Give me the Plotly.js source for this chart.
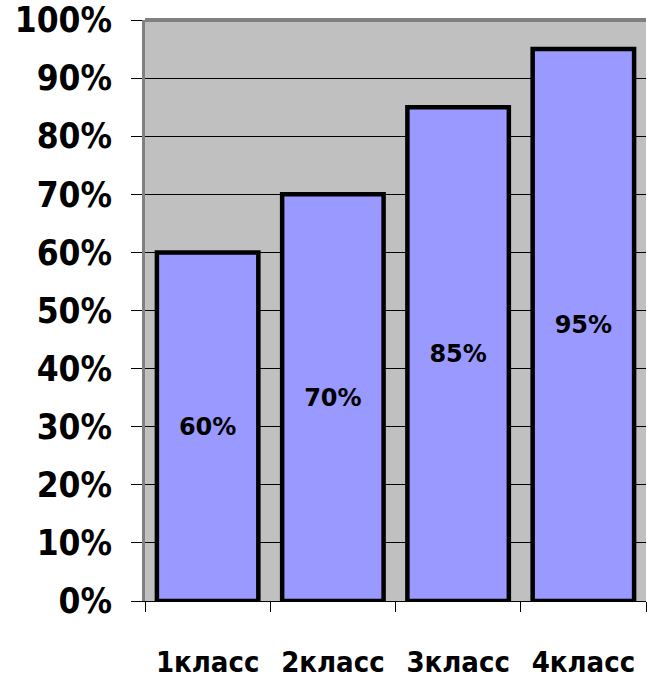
<!DOCTYPE html>
<html>
<head>
<meta charset="utf-8">
<script src="https://cdn.plot.ly/plotly-3.0.1.min.js"></script>
<style>html,body{margin:0;padding:0;background:#fff;}#chart{width:647px;height:679px;}</style>
</head>
<body>
<div id="chart"></div>
<script>
const categories = ['1класс', '2класс', '3класс', '4класс'];
const values = [0.60, 0.70, 0.85, 0.95];
const yTickVals = [0, 0.1, 0.2, 0.3, 0.4, 0.5, 0.6, 0.7, 0.8, 0.9, 1.0];
const yTickText = ['0%', '10%', '20%', '30%', '40%', '50%', '60%', '70%', '80%', '90%', '100%'];

const trace = {
  type: 'bar',
  x: categories,
  y: values,
  marker: { color: '#9999ff', line: { color: '#000000', width: 4.5 } },
  texttemplate: '%{y:.0%}',
  textposition: 'inside',
  insidetextanchor: 'middle',
  textangle: 0,
  textfont: { family: 'DejaVu Sans', size: 24, color: '#000000', weight: 'bold' },
  hoverinfo: 'none'
};

const layout = {
  width: 647, height: 679,
  margin: { l: 145, r: 1, t: 20, b: 78 },
  paper_bgcolor: '#ffffff',
  plot_bgcolor: '#c0c0c0',
  bargap: 0.19,
  showlegend: false,
  xaxis: {
    type: 'category',
    tickson: 'boundaries',
    ticks: 'outside', ticklen: 10, tickcolor: '#000000', tickwidth: 1,
    ticklabelstandoff: 35,
    showline: true, linecolor: '#000000', linewidth: 1,
    showgrid: false,
    tickfont: { family: 'DejaVu Sans Condensed', size: 29, color: '#000000', weight: 'bold' },
    fixedrange: true
  },
  yaxis: {
    range: [0, 1],
    tickvals: yTickVals, ticktext: yTickText,
    ticks: 'outside', ticklen: 11, tickcolor: '#000000', tickwidth: 1,
    ticklabelstandoff: 12,
    showgrid: true, gridcolor: '#000000', gridwidth: 1,
    zeroline: false,
    showline: true, linecolor: '#808080', linewidth: 3,
    tickfont: { family: 'DejaVu Sans Condensed', size: 35, color: '#000000', weight: 'bold' },
    fixedrange: true
  },
  shapes: [
    { type: 'line', xref: 'paper', yref: 'paper', x0: 0, x1: 1, y0: 1, y1: 1,
      line: { color: '#808080', width: 4 } }
  ]
};

Plotly.newPlot('chart', [trace], layout, { staticPlot: true, displayModeBar: false });
</script>
</body>
</html>
